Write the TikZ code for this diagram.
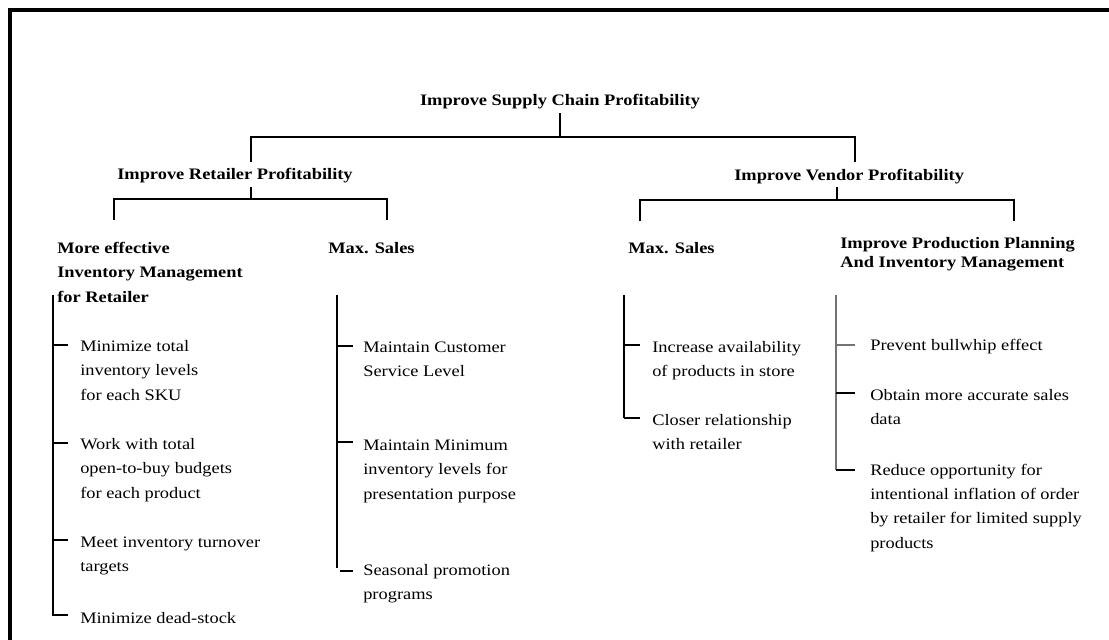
\documentclass[tikz,border=0pt]{standalone}
\usepackage{fontspec}
\setmainfont{Liberation Serif}[FakeStretch=1.15]
% lines stacked from the first baseline downwards
\newcommand{\itemlines}[1]{\begin{tabular}[t]{@{}l@{}}#1\end{tabular}}
\begin{document}
\begin{tikzpicture}[x=0.75pt,y=-0.75pt,
  frame/.style={line width=3pt},
  branch/.style={line width=1.6pt},
  thinstem/.style={line width=0.8pt},
  stem/.style={line width=1.1pt},
  greystem/.style={line width=0.8pt, draw=black!55},
  tick/.style={line width=1.6pt},
  leaf/.style={anchor=base west, inner sep=0pt,
    font=\fontsize{12}{18.6}\selectfont},
  head/.style={anchor=base west, inner sep=0pt,
    font=\fontsize{12}{18.4}\selectfont\bfseries},
  headtight/.style={head, font=\fontsize{12}{14.25}\selectfont\bfseries}]
\useasboundingbox (0,0) rectangle (1109,639);

% outer frame, running off the page to the right and at the bottom
\coordinate (frameBL) at (10,660);
\coordinate (frameTL) at (10,10);
\coordinate (frameTR) at (1130,10);
\draw[frame] (frameBL) -- (frameTL) -- (frameTR);

% ---------------- level 0 ----------------
\node[head, anchor=base] (root) at (560,105.5) {Improve Supply Chain Profitability};
\coordinate (rootStem) at (560,113);
\coordinate (rootBar)  at (560,137);
\coordinate (barL) at (251,137);
\coordinate (barR) at (855,137);
\coordinate (retIn) at (251,162);
\coordinate (venIn) at (855,162);
\draw[thinstem] (rootStem) -- (rootBar);
\draw[branch] (retIn) -- (barL) -- (barR) -- (venIn);

% ---------------- level 1 ----------------
\node[head] (ret) at (117,179.5) {Improve Retailer Profitability};
\node[head] (ven) at (734,180) {Improve Vendor Profitability};

\coordinate (retOut) at (251,187);
\coordinate (retBar) at (251,199);
\coordinate (retBarL) at (114,199);
\coordinate (retBarR) at (387,199);
\coordinate (invIn) at (114,220);
\coordinate (rsalesIn) at (387,220);
\draw[branch] (retOut) -- (retBar);
\draw[branch] (invIn) -- (retBarL) -- (retBarR) -- (rsalesIn);

\coordinate (venOut) at (837,187);
\coordinate (venBar) at (837,200);
\coordinate (venBarL) at (640,200);
\coordinate (venBarR) at (1014,200);
\coordinate (vsalesIn) at (640,221);
\coordinate (prodIn) at (1014,221);
\draw[branch] (venOut) -- (venBar);
\draw[branch] (vsalesIn) -- (venBarL) -- (venBarR) -- (prodIn);

% ---------------- level 2 ----------------
\node[head] (inv) at (57,253) {\itemlines{More effective\\Inventory Management\\for Retailer}};
\node[head] (rsales) at (328,253) {Max. Sales};
\node[head] (vsales) at (628,253) {Max. Sales};
\node[headtight] (prod) at (840,248) {\itemlines{Improve Production Planning\\And Inventory Management}};

% ---------------- retailer: inventory management ----------------
\coordinate (c1top) at (53,295);
\coordinate (c1a) at (53,345);
\coordinate (c1b) at (53,443);
\coordinate (c1c) at (53,540);
\coordinate (c1d) at (53,615);
\draw[stem] (c1top) -- (c1d);
\node[leaf] (l1a) at (80,351) {\itemlines{Minimize total\\inventory levels\\for each SKU}};
\node[leaf] (l1b) at (80,449) {\itemlines{Work with total\\open-to-buy budgets\\for each product}};
\node[leaf] (l1c) at (80,547) {\itemlines{Meet inventory turnover\\targets}};
\node[leaf] (l1d) at (80,623) {Minimize dead-stock};
\draw[tick] (c1a) -- ++(15,0);
\draw[tick] (c1b) -- ++(15,0);
\draw[tick] (c1c) -- ++(15,0);
\draw[tick] ([yshift=0.6pt]c1d) -- (c1d) -- ++(15,0);

% ---------------- retailer: max. sales ----------------
\coordinate (c2top) at (337,295);
\coordinate (c2a) at (337,346);
\coordinate (c2b) at (337,442);
\coordinate (c2end) at (337,568);
\coordinate (c2c) at (340,571);
\draw[stem] (c2top) -- (c2end);
\node[leaf] (l2a) at (363,352) {\itemlines{Maintain Customer\\Service Level}};
\node[leaf] (l2b) at (363,450) {\itemlines{Maintain Minimum\\inventory levels for\\presentation purpose}};
\node[leaf] (l2c) at (363,575) {\itemlines{Seasonal promotion\\programs}};
\draw[tick] (c2a) -- ++(16,0);
\draw[tick] (c2b) -- ++(16,0);
\draw[tick] (c2c) -- ++(13,0);

% ---------------- vendor: max. sales ----------------
\coordinate (c3top) at (624,295);
\coordinate (c3a) at (624,345);
\coordinate (c3b) at (624,418);
\draw[stem] (c3top) -- (c3b);
\node[leaf] (l3a) at (652,352) {\itemlines{Increase availability\\of products in store}};
\node[leaf] (l3b) at (652,425) {\itemlines{Closer relationship\\with retailer}};
\draw[tick] (c3a) -- ++(16,0);
\draw[tick] (c3b) -- ++(16,0);

% ---------------- vendor: production planning ----------------
\coordinate (c4top) at (836,295);
\coordinate (c4a) at (836,345);
\coordinate (c4b) at (836,393);
\coordinate (c4c) at (836,470);
\draw[greystem] (c4top) -- (c4c);
\node[leaf] (l4a) at (870,350) {Prevent bullwhip effect};
\node[leaf] (l4b) at (870,400) {\itemlines{Obtain more accurate sales\\data}};
\node[leaf, font=\fontsize{12}{18.3}\selectfont] (l4c) at (870,475) {\itemlines{Reduce opportunity for\\intentional inflation of order\\by retailer for limited supply\\products}};
\draw[greystem] (c4a) -- ++(19,0);
\draw[tick] (c4b) -- ++(19,0);
\draw[tick] (c4c) -- ++(19,0);
\end{tikzpicture}
\end{document}
